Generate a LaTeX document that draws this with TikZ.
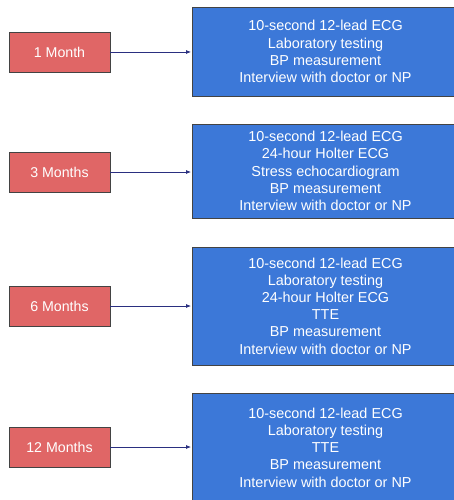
\documentclass[tikz,border=0pt]{standalone}
\usepackage{fontspec}
\setmainfont{Liberation Sans}
\usetikzlibrary{arrows.meta}
\definecolor{stagered}{HTML}{E06666}
\definecolor{planblue}{HTML}{3C78D8}
\definecolor{edgegray}{HTML}{434343}
\definecolor{linknavy}{HTML}{2A2F80}
\tikzset{
  stage/.style={draw=edgegray, line width=0.9pt, fill=stagered, text=white,
    minimum width=101pt, minimum height=40pt, inner sep=0pt,
    font=\fontsize{14.2pt}{17.2pt}\selectfont},
  plan/.style={draw=edgegray, line width=0.9pt, fill=planblue, text=white,
    minimum width=267pt, align=center, inner sep=0pt,
    font=\fontsize{14.4pt}{17.2pt}\selectfont},
  link/.style={draw=linknavy, line width=0.8pt, -{Latex[length=5pt,width=4pt]}, shorten >=0.5pt}
}
\begin{document}
\begin{tikzpicture}[x=1pt,y=-1pt]
\useasboundingbox (0,0) rectangle (454,500);
\clip (0,0) rectangle (454,500);
\fill[white] (0,0) rectangle (454,500);

% follow-up stages
\node[stage] (m1)  at (59.5,52)  {1 Month};
\node[stage] (m3)  at (59.5,172) {3 Months};
\node[stage] (m6)  at (59.5,306) {6 Months};
\node[stage] (m12) at (59.5,447) {12 Months};

% tests at each stage
\node[plan, minimum height=89pt] (p1) at (325.5,51.5)
  {10-second 12-lead ECG\\Laboratory testing\\BP measurement\\Interview with doctor or NP};
\node[plan, minimum height=94pt] (p3) at (325.5,171)
  {10-second 12-lead ECG\\24-hour Holter ECG\\Stress echocardiogram\\BP measurement\\Interview with doctor or NP};
\node[plan, minimum height=118pt] (p6) at (325.5,306)
  {10-second 12-lead ECG\\Laboratory testing\\24-hour Holter ECG\\TTE\\BP measurement\\Interview with doctor or NP};
\node[plan, minimum height=109pt] (p12) at (325.5,447.5)
  {10-second 12-lead ECG\\Laboratory testing\\TTE\\BP measurement\\Interview with doctor or NP};

% connectors
\draw[link] (m1.east)  -- (m1.east -| p1.west);
\draw[link] (m3.east)  -- (m3.east -| p3.west);
\draw[link] (m6.east)  -- (m6.east -| p6.west);
\draw[link] (m12.east) -- (m12.east -| p12.west);
\end{tikzpicture}
\end{document}
